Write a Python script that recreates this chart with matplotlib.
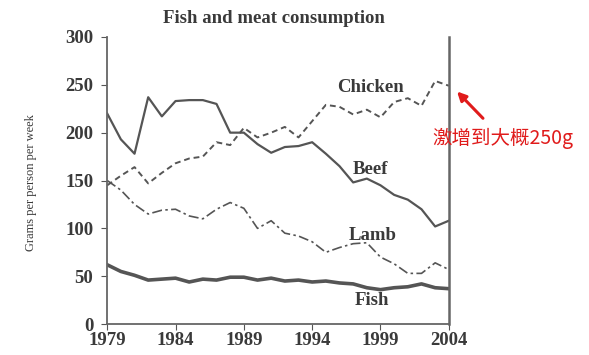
import matplotlib
matplotlib.use("Agg")
import matplotlib.pyplot as plt

# -----------------------------
# Data
# -----------------------------
years = list(range(1979, 2005))

beef = [220, 193, 178, 237, 217, 233, 234, 234, 230, 200, 200, 188, 179,
        185, 186, 190, 178, 165, 148, 152, 145, 135, 130, 120, 102, 108]
chicken = [145, 155, 164, 147, 158, 168, 173, 175, 190, 187, 205, 195, 200,
           206, 195, 212, 229, 227, 219, 224, 216, 232, 236, 228, 254, 249]
lamb = [150, 140, 125, 115, 119, 120, 113, 110, 120, 127, 121, 100, 108,
        95, 92, 86, 75, 80, 84, 85, 70, 63, 53, 53, 64, 57]
fish = [62, 55, 51, 46, 47, 48, 44, 47, 46, 49, 49, 46, 48,
        45, 46, 44, 45, 43, 42, 38, 36, 38, 39, 42, 38, 37]

xticks = [1979, 1984, 1989, 1994, 1999, 2004]
yticks = [0, 50, 100, 150, 200, 250, 300]

serif = "Liberation Serif"
gray = "#555555"
txt = "#3a3a3a"
red = "#e01b1b"

# -----------------------------
# Plot
# -----------------------------
fig = plt.figure(figsize=(5.89, 3.55), dpi=100)
ax = fig.add_axes([0.182, 0.087, 0.580, 0.809])

ax.plot(years, beef, color=gray, lw=1.6)
ax.plot(years, chicken, color=gray, lw=1.4, linestyle=(0, (3, 2)))
ax.plot(years, lamb, color=gray, lw=1.2, linestyle=(0, (6, 2, 1.5, 2)))
ax.plot(years, fish, color=gray, lw=2.6)

ax.set_xlim(1979, 2004)
ax.set_ylim(0, 300)
ax.set_xticks(xticks)
ax.set_yticks(yticks)
ax.tick_params(direction="out", length=4, color=gray, labelsize=13.5,
               labelcolor=txt, pad=6)
ax.tick_params(axis="x", pad=2)
for lbl in ax.get_xticklabels() + ax.get_yticklabels():
    lbl.set_fontfamily(serif)
    lbl.set_fontweight("bold")

ax.spines["top"].set_visible(False)
for s in ["left", "bottom", "right"]:
    ax.spines[s].set_color("#666666")
    ax.spines[s].set_linewidth(1.3)
ax.spines["right"].set_linewidth(1.8)

fig.text(0.052, 0.487, "Grams per person per week", fontfamily=serif,
         fontsize=9, color=txt, rotation=90, ha="center", va="center")
fig.text(0.465, 0.935, "Fish and meat consumption", fontfamily=serif,
         fontsize=13.5, fontweight="bold", color=txt, ha="center")

# Series labels
for name, x, y in [("Chicken", 1998.3, 247), ("Beef", 1998.3, 161),
                   ("Lamb", 1998.4, 93), ("Fish", 1998.4, 25)]:
    ax.text(x, y, name, fontfamily=serif, fontsize=13.5, fontweight="bold",
            color=txt, ha="center", va="center")

# Red annotation
ax.text(2002.8, 194, "激增到大概250g",
        fontfamily=["Noto Sans CJK SC", "DejaVu Sans"], fontsize=14,
        color=red, ha="left", va="center", clip_on=False)
ax.annotate("", xy=(2004.6, 243), xytext=(2006.5, 215),
            annotation_clip=False,
            arrowprops=dict(arrowstyle="-|>", color=red, lw=2.2,
                            mutation_scale=13, shrinkA=0, shrinkB=0))

fig.savefig("out.png", dpi=100)
